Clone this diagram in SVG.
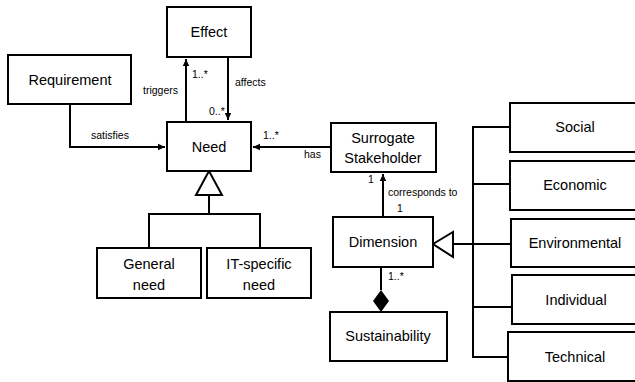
<svg xmlns="http://www.w3.org/2000/svg" width="635" height="382" viewBox="0 0 635 382">
<style>
.box{fill:#fff;stroke:#000;stroke-width:2}
.lbl{font-family:"Liberation Sans",Arial,sans-serif;font-size:14.5px;text-anchor:middle;fill:#000}
.sm{font-family:"Liberation Sans",Arial,sans-serif;font-size:10.5px;fill:#000}
.ln{fill:none;stroke:#000;stroke-width:2}
.hol{fill:#fff;stroke:#000;stroke-width:2;stroke-linejoin:miter}
</style>
<defs>
<marker id="arr" markerUnits="userSpaceOnUse" markerWidth="8" markerHeight="8" refX="7" refY="4" orient="auto">
<path d="M0,0.8 L7,4 L0,7.2 Z" fill="#000"/>
</marker>
</defs>
<rect width="635" height="382" fill="#fff"/>
<g id="connectors">
<path class="ln" d="M186,122 V59" marker-end="url(#arr)"/>
<path class="ln" d="M228,57 V120" marker-end="url(#arr)"/>
<path class="ln" d="M70,104 V147 H165" marker-end="url(#arr)"/>
<path class="ln" d="M331,147 H253" marker-end="url(#arr)"/>
<path class="ln" d="M383,217 V174" marker-end="url(#arr)"/>
<path class="ln" d="M209,195 V214 M149,248 V214 H260 V248"/>
<polygon class="hol" points="209,171 196,195 222,195"/>
<path class="ln" d="M453,244 H473 M510,127 H473 V357 H510 M473,184 H510 M473,244 H511 M473,307 H512"/>
<polygon class="hol" points="433,244 453,232 453,257"/>
<path class="ln" d="M381,267 V290"/>
<polygon points="381,290 389,301 381,312 373,301" fill="#000"/>
<text class="sm" x="192" y="78">1..*</text>
<text class="sm" x="143" y="94">triggers</text>
<text class="sm" x="235" y="86">affects</text>
<text class="sm" x="209" y="115">0..*</text>
<text class="sm" x="91" y="139">satisfies</text>
<text class="sm" x="263" y="139">1..*</text>
<text class="sm" x="304" y="158">has</text>
<text class="sm" x="368" y="183">1</text>
<text class="sm" x="388" y="196">corresponds to</text>
<text class="sm" x="397" y="212">1</text>
<text class="sm" x="388" y="280">1..*</text>
</g>
<g id="effect"><rect class="box" x="167" y="7" width="84" height="50"/><text class="lbl" x="209" y="37">Effect</text></g>
<g id="requirement"><rect class="box" x="8" y="55" width="123" height="49"/><text class="lbl" x="70" y="85">Requirement</text></g>
<g id="need"><rect class="box" x="167" y="122" width="84" height="49"/><text class="lbl" x="209" y="152">Need</text></g>
<g id="surrogate"><rect class="box" x="331" y="123" width="105" height="49"/><text class="lbl" x="383" y="143">Surrogate</text><text class="lbl" x="383" y="163">Stakeholder</text></g>
<g id="general"><rect class="box" x="97" y="248" width="104" height="50"/><text class="lbl" x="149" y="269">General</text><text class="lbl" x="149" y="290">need</text></g>
<g id="itspecific"><rect class="box" x="207" y="248" width="104" height="50"/><text class="lbl" x="259" y="269">IT-specific</text><text class="lbl" x="259" y="290">need</text></g>
<g id="dimension"><rect class="box" x="333" y="217" width="100" height="50"/><text class="lbl" x="383" y="247">Dimension</text></g>
<g id="sustainability"><rect class="box" x="330" y="312" width="117" height="49"/><text class="lbl" x="388" y="341">Sustainability</text></g>
<g id="social"><rect class="box" x="510" y="103" width="140" height="49"/><text class="lbl" x="575" y="132">Social</text></g>
<g id="economic"><rect class="box" x="510" y="161" width="140" height="49"/><text class="lbl" x="575" y="190">Economic</text></g>
<g id="environmental"><rect class="box" x="511" y="219" width="140" height="48"/><text class="lbl" x="575" y="248">Environmental</text></g>
<g id="individual"><rect class="box" x="512" y="275" width="140" height="49"/><text class="lbl" x="576" y="305">Individual</text></g>
<g id="technical"><rect class="box" x="508" y="332" width="140" height="49"/><text class="lbl" x="575" y="362">Technical</text></g>
</svg>
